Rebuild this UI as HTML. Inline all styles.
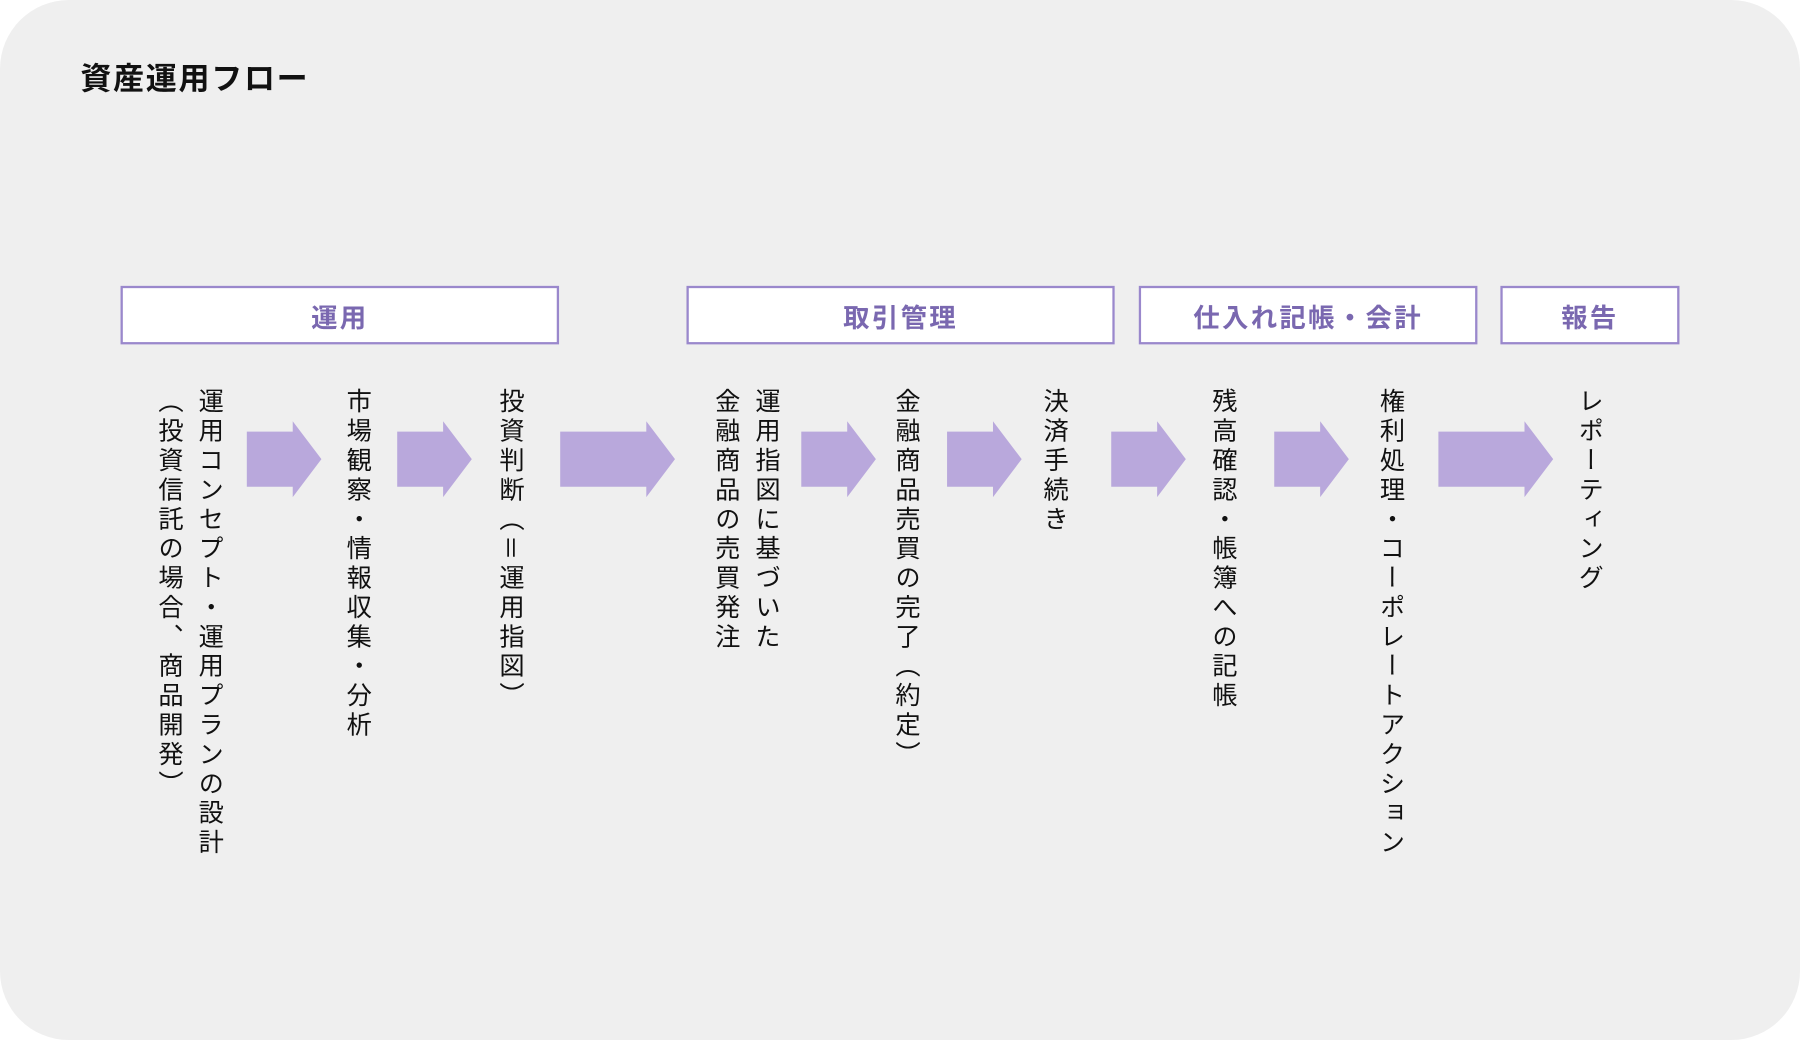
<!DOCTYPE html>
<html><head><meta charset="utf-8"><style>
html,body{margin:0;padding:0;background:#fff;width:1800px;height:1040px;overflow:hidden}
#s{position:absolute;left:0;top:0;width:1568px;height:906px;transform:scale(1.14796);transform-origin:0 0;font-family:"Liberation Sans","Noto Sans CJK JP",sans-serif}
#bg{position:absolute;left:0;top:0;width:1568px;height:906px;background:#efefef;border-radius:60px}
.t{position:absolute;left:70px;top:47px;font-size:27px;letter-spacing:1.5px;font-weight:bold;color:#111}
.b{position:absolute;top:249px;height:47px;border:2px solid #9a88cc;background:#fff;color:#7a68b0;font-weight:bold;font-size:23px;display:flex;align-items:center;justify-content:center;letter-spacing:2px}
.v{position:absolute;top:338px;writing-mode:vertical-rl;font-size:22px;letter-spacing:3.6px;line-height:35px;color:#111;white-space:nowrap}
</style></head><body><div id="s">
<div id="bg"></div>
<div class="t">資産運用フロー</div>
<div class="b" style="left:105px;width:378px">運用</div>
<div class="b" style="left:598px;width:369px">取引管理</div>
<div class="b" style="left:992px;width:291px">仕入れ記帳・会計</div>
<div class="b" style="left:1307px;width:152px">報告</div>
<svg style="position:absolute;left:0;top:0" width="1568" height="906">
<g fill="#b9a8dc">
<polygon points="215,376 255,376 255,367 280,400 255,433 255,424 215,424"/>
<polygon points="346,376 386,376 386,367 411,400 386,433 386,424 346,424"/>
<polygon points="488,376 563,376 563,367 588,400 563,433 563,424 488,424"/>
<polygon points="698,376 738,376 738,367 763,400 738,433 738,424 698,424"/>
<polygon points="825,376 865,376 865,367 890,400 865,433 865,424 825,424"/>
<polygon points="968,376 1008,376 1008,367 1033,400 1008,433 1008,424 968,424"/>
<polygon points="1110,376 1150,376 1150,367 1175,400 1150,433 1150,424 1110,424"/>
<polygon points="1253,376 1328,376 1328,367 1353,400 1328,433 1328,424 1253,424"/>
</g></svg>
<div class="v" style="left:130px">運用コンセプト・運用プランの設計<br>（投資信託の場合、商品開発）</div>
<div class="v" style="left:294px">市場観察・情報収集・分析</div>
<div class="v" style="left:427px">投資判断（＝運用指図）</div>
<div class="v" style="left:615px">運用指図に基づいた<br>金融商品の売買発注</div>
<div class="v" style="left:772px">金融商品売買の完了（約定）</div>
<div class="v" style="left:901px">決済手続き</div>
<div class="v" style="left:1048px">残高確認・帳簿への記帳</div>
<div class="v" style="left:1194px">権利処理・コーポレートアクション</div>
<div class="v" style="left:1367px">レポーティング</div>
</div></body></html>
